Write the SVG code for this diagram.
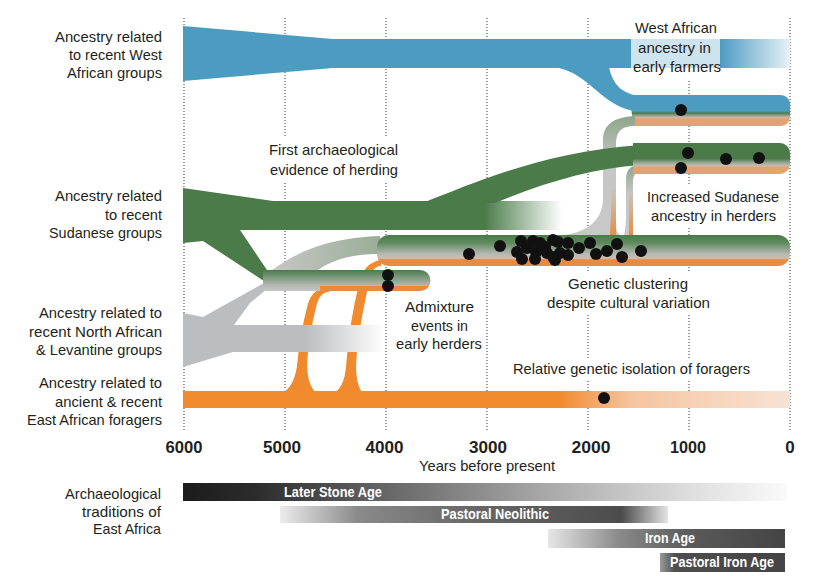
<svg xmlns="http://www.w3.org/2000/svg" width="815" height="576" viewBox="0 0 815 576">
<defs>
<style>
text{font-family:"Liberation Sans",Arial,sans-serif;fill:#231f20;font-size:15px}
.r{text-anchor:end}
.m{text-anchor:middle}
.n{font-weight:bold;font-size:17px;text-anchor:middle}
.b{font-weight:bold;font-size:14px;fill:#fff}
.grid{stroke:#333;stroke-width:1;stroke-dasharray:1 2;fill:none}
.dot{fill:#111}
.mask{fill:#fff}
.orc{fill:#f08a2e;stroke:#fff;stroke-width:1.2}
</style>
<linearGradient id="gBlueFade" x1="0" x2="1" y1="0" y2="0"><stop offset="0" stop-color="#4c9cc2"/><stop offset="1" stop-color="#e9f2f7"/></linearGradient>
<linearGradient id="gLowBlue" x1="0" x2="0" y1="0" y2="1"><stop offset="0" stop-color="#4c9cc2"/><stop offset=".52" stop-color="#4c9cc2"/><stop offset=".58" stop-color="#4a7b49"/><stop offset=".65" stop-color="#86998a"/><stop offset=".72" stop-color="#cbb7a7"/><stop offset=".78" stop-color="#e9a06c"/><stop offset="1" stop-color="#e9a06c"/></linearGradient>
<linearGradient id="gMidGreen" x1="0" x2="0" y1="0" y2="1"><stop offset="0" stop-color="#4a7b49"/><stop offset=".5" stop-color="#4a7b49"/><stop offset=".66" stop-color="#a4aea1"/><stop offset=".74" stop-color="#c9bcb0"/><stop offset=".78" stop-color="#e9a06c"/><stop offset="1" stop-color="#e9a06c"/></linearGradient>
<linearGradient id="gHerd" x1="0" x2="0" y1="0" y2="1"><stop offset="0" stop-color="#4a7b49"/><stop offset=".25" stop-color="#5f8a5d"/><stop offset=".6" stop-color="#b3b7b1"/><stop offset=".75" stop-color="#c9c0b8"/><stop offset=".8" stop-color="#ea8a3e"/><stop offset="1" stop-color="#ea8a3e"/></linearGradient>
<linearGradient id="gSmall" x1="0" x2="0" y1="0" y2="1"><stop offset="0" stop-color="#4a7b49"/><stop offset=".7" stop-color="#b0b6ae"/><stop offset="1" stop-color="#c6c6c6"/></linearGradient>
<linearGradient id="gGreenFade" x1="0" x2="1" y1="0" y2="0"><stop offset="0" stop-color="#4a7b49"/><stop offset="1" stop-color="#4a7b49" stop-opacity="0"/></linearGradient>
<linearGradient id="gGrayFade" x1="0" x2="1" y1="0" y2="0"><stop offset="0" stop-color="#bcbdbf"/><stop offset="1" stop-color="#fff"/></linearGradient>
<linearGradient id="gForager" x1="0" x2="1" y1="0" y2="0"><stop offset="0" stop-color="#f28a2e"/><stop offset=".62" stop-color="#f28a2e"/><stop offset=".74" stop-color="#f5c5a0"/><stop offset="1" stop-color="#f8e2d4"/></linearGradient>
<linearGradient id="gRibbon" x1="0" x2="1" y1="0" y2="0"><stop offset="0" stop-color="#c6c6c6"/><stop offset="1" stop-color="#9aae97"/></linearGradient>
<linearGradient id="gConn" x1="0" x2="0" y1="0" y2="1"><stop offset="0" stop-color="#8fa58c"/><stop offset=".4" stop-color="#c4c7c3"/><stop offset="1" stop-color="#c8c8c8"/></linearGradient>
<linearGradient id="gConnOr" x1="0" x2="0" y1="0" y2="1"><stop offset="0" stop-color="#ea8a3e" stop-opacity="0"/><stop offset="1" stop-color="#ea8a3e"/></linearGradient>
<linearGradient id="gLSA" x1="0" x2="1" y1="0" y2="0"><stop offset="0" stop-color="#1b1b1b"/><stop offset=".12" stop-color="#2c2c2c"/><stop offset=".35" stop-color="#6a6a6a"/><stop offset=".6" stop-color="#a8a8a8"/><stop offset=".85" stop-color="#e0e0e0"/><stop offset="1" stop-color="#fafafa"/></linearGradient>
<linearGradient id="gPN" x1="0" x2="1" y1="0" y2="0"><stop offset="0" stop-color="#ececec"/><stop offset=".2" stop-color="#8a8a8a"/><stop offset=".5" stop-color="#686868"/><stop offset=".88" stop-color="#4c4c4c"/><stop offset="1" stop-color="#e4e4e4"/></linearGradient>
<linearGradient id="gIA" x1="0" x2="1" y1="0" y2="0"><stop offset="0" stop-color="#e6e6e6"/><stop offset=".3" stop-color="#8a8a8a"/><stop offset=".6" stop-color="#5a5a5a"/><stop offset="1" stop-color="#444"/></linearGradient>
<linearGradient id="gPIA" x1="0" x2="1" y1="0" y2="0"><stop offset="0" stop-color="#9a9a9a"/><stop offset=".12" stop-color="#4e4e4e"/><stop offset="1" stop-color="#444"/></linearGradient>
<clipPath id="clipSmall"><path d="M263,270 H420 A10.5,10.5 0 0 1 420,291 H263 Z"/></clipPath>
</defs>
<rect width="815" height="576" fill="#fff"/>

<g id="gridlines">
<path class="grid" d="M184,18V432M285,18V432M386,18V432M487,18V432M588,18V432M689,18V432M790,18V432"/>
</g>
<g id="text-backgrounds">
<rect class="mask" x="265" y="138" width="137" height="44"/>
<rect class="mask" x="629" y="14" width="94" height="66"/>
<rect class="mask" x="643" y="186" width="140" height="42"/>
<rect class="mask" x="543" y="273" width="171" height="42"/>
<rect class="mask" x="392" y="296" width="94" height="58"/>
<rect class="mask" x="509" y="358" width="245" height="22"/>
</g>

<g id="west-african">
<path d="M183,26 L333,39 L720,39 L720,68 L333,68 L183,81 Z" fill="#4c9cc2"/>
<rect x="720" y="39" width="70" height="29" fill="url(#gBlueFade)"/>
<path d="M548,67 C590,67 600,112 645,112 L645,96 C624,96 613,86 609,67 Z" fill="#4c9cc2"/>
<rect x="631" y="39" width="89" height="29" fill="#fff" opacity=".72"/>
</g>

<g id="farmers">
<path d="M630,95 H781 A9,9 0 0 1 790,104 V117 A9,9 0 0 1 781,126 H633 Z" fill="url(#gLowBlue)"/>
</g>

<g id="connectors-late">
<path d="M556,236 C585,234 602,222 603,200 L603,140 C603,126 612,117 635,116 L635,126 C620,126 616,133 616,145 L616,226 C616,231 618,234 622,236 Z" fill="url(#gConn)"/>
<path d="M610,236 C611,220 611,205 612,190 L616,188 L616,236 Z" fill="url(#gConnOr)"/>
<path d="M624,236 C625,230 626,225 626,215 L626,180 C626,170 630,166 638,165 L638,173 C635,173 633,176 633,182 L633,236 Z" fill="url(#gConn)"/>
<path d="M629,236 L629,195 L633,190 L633,236 Z" fill="url(#gConnOr)"/>
</g>

<g id="sudanese">
<path d="M183,188 L273,201 L485,201 L485,230 L240,230 L267,270 L267,283 L203,241 L183,243 Z" fill="#4a7b49"/>
<rect x="484" y="201" width="78" height="29" fill="url(#gGreenFade)"/>
<path d="M425,202 C470,185 540,152 640,145 L640,165 C595,168 545,182 495,203 Z" fill="#4a7b49"/>
</g>

<g id="herders-late">
<path d="M633,143 H780 A10,10 0 0 1 790,153 V164 A10,10 0 0 1 780,174 H633 Z" fill="url(#gMidGreen)"/>
</g>

<g id="connectors">
<path class="orc" d="M280,394 C292,388 296,375 297,360 C299,340 303,320 307,305 C310,293 318,287 330,286 L330,292 C322,293 319,298 317,306 C313,322 309,340 308,360 C307,375 310,387 318,394 Z"/>
<path class="orc" d="M332,394 C343,388 345,375 346,360 C348,335 352,310 358,285 C361,270 367,262 382,259 L382,266 C374,267 371,272 369,285 C364,310 358,335 357,360 C356,375 358,387 364,394 Z"/>
<path d="M272,270 C300,250 330,238 380,236 L380,254 C355,254 335,258 318,270 Z" fill="url(#gRibbon)"/>
</g>

<g id="foragers">
<rect x="183" y="391" width="607" height="17" fill="url(#gForager)"/>
</g>

<g id="north-african">
<path d="M183,313 L203,317 L264,283 L267,289 L250,303 L234,325 L306,325 L306,352 L233,352 L183,367 Z" fill="#bcbdbf"/>
<rect x="305" y="325" width="79" height="27" fill="url(#gGrayFade)"/>
</g>

<g id="herders-early">
<path d="M263,270 H420 A10.5,10.5 0 0 1 420,291 H263 Z" fill="url(#gSmall)"/>
<rect x="320" y="286" width="112" height="6" fill="#ea8a3e" clip-path="url(#clipSmall)"/>
<circle class="dot" cx="388" cy="275" r="6"/>
<circle class="dot" cx="388" cy="286" r="6"/>
</g>

<g id="herders">
<rect x="377" y="235" width="413" height="31" rx="12" fill="url(#gHerd)"/>
<circle class="dot" cx="469" cy="254" r="6"/>
<circle class="dot" cx="500" cy="246" r="6"/>
<circle class="dot" cx="521" cy="241" r="6"/>
<circle class="dot" cx="517" cy="252" r="6"/>
<circle class="dot" cx="522" cy="259" r="6"/>
<circle class="dot" cx="533" cy="241" r="6"/>
<circle class="dot" cx="540" cy="243" r="6"/>
<circle class="dot" cx="536" cy="252" r="6"/>
<circle class="dot" cx="535" cy="259" r="6"/>
<circle class="dot" cx="527" cy="248" r="6"/>
<circle class="dot" cx="545" cy="247" r="6"/>
<circle class="dot" cx="553" cy="240" r="6"/>
<circle class="dot" cx="558" cy="242" r="6"/>
<circle class="dot" cx="547" cy="253" r="6"/>
<circle class="dot" cx="553" cy="257" r="6"/>
<circle class="dot" cx="555" cy="260" r="6"/>
<circle class="dot" cx="560" cy="253" r="6"/>
<circle class="dot" cx="568" cy="243" r="6"/>
<circle class="dot" cx="568" cy="255" r="6"/>
<circle class="dot" cx="579" cy="248" r="6"/>
<circle class="dot" cx="590" cy="243" r="6"/>
<circle class="dot" cx="596" cy="254" r="6"/>
<circle class="dot" cx="607" cy="251" r="6"/>
<circle class="dot" cx="617" cy="244" r="6"/>
<circle class="dot" cx="622" cy="257" r="6"/>
<circle class="dot" cx="641" cy="251" r="6"/>
</g>

<g id="samples-late">
<circle class="dot" cx="681" cy="110" r="6"/>
<circle class="dot" cx="688" cy="153" r="6"/>
<circle class="dot" cx="726" cy="159" r="6"/>
<circle class="dot" cx="759" cy="158" r="6"/>
<circle class="dot" cx="681" cy="168" r="6"/>
<circle class="dot" cx="604" cy="398" r="6"/>
</g>

<g id="labels-left">
<text class="r" x="162" y="42" textLength="107" lengthAdjust="spacingAndGlyphs">Ancestry related</text>
<text class="r" x="162" y="60" textLength="93" lengthAdjust="spacingAndGlyphs">to recent West</text>
<text class="r" x="162" y="78" textLength="95" lengthAdjust="spacingAndGlyphs">African groups</text>
<text class="r" x="162" y="201" textLength="107" lengthAdjust="spacingAndGlyphs">Ancestry related</text>
<text class="r" x="162" y="220" textLength="57" lengthAdjust="spacingAndGlyphs">to recent</text>
<text class="r" x="162" y="238" textLength="113" lengthAdjust="spacingAndGlyphs">Sudanese groups</text>
<text class="r" x="162" y="318" textLength="123" lengthAdjust="spacingAndGlyphs">Ancestry related to</text>
<text class="r" x="162" y="337" textLength="133" lengthAdjust="spacingAndGlyphs">recent North African</text>
<text class="r" x="162" y="355" textLength="126" lengthAdjust="spacingAndGlyphs">&amp; Levantine groups</text>
<text class="r" x="162" y="388" textLength="123" lengthAdjust="spacingAndGlyphs">Ancestry related to</text>
<text class="r" x="162" y="407" textLength="107" lengthAdjust="spacingAndGlyphs">ancient &amp; recent</text>
<text class="r" x="162" y="425" textLength="135" lengthAdjust="spacingAndGlyphs">East African foragers</text>
<text class="r" x="161" y="499" textLength="96" lengthAdjust="spacingAndGlyphs">Archaeological</text>
<text class="r" x="161" y="517" textLength="79" lengthAdjust="spacingAndGlyphs">traditions of</text>
<text class="r" x="161" y="534" textLength="68" lengthAdjust="spacingAndGlyphs">East Africa</text>
</g>

<g id="annotations">
<text class="m" x="333.5" y="155" textLength="129" lengthAdjust="spacingAndGlyphs">First archaeological</text>
<text class="m" x="334" y="175" textLength="128" lengthAdjust="spacingAndGlyphs">evidence of herding</text>
<text class="m" x="676" y="33" textLength="82" lengthAdjust="spacingAndGlyphs">West African</text>
<text class="m" x="674.5" y="53" textLength="73" lengthAdjust="spacingAndGlyphs">ancestry in</text>
<text class="m" x="677" y="72" textLength="88" lengthAdjust="spacingAndGlyphs">early farmers</text>
<text class="m" x="713" y="202" textLength="132" lengthAdjust="spacingAndGlyphs">Increased Sudanese</text>
<text class="m" x="713.5" y="221" textLength="125" lengthAdjust="spacingAndGlyphs">ancestry in herders</text>
<text class="m" x="628" y="289" textLength="120" lengthAdjust="spacingAndGlyphs">Genetic clustering</text>
<text class="m" x="628.5" y="308" textLength="163" lengthAdjust="spacingAndGlyphs">despite cultural variation</text>
<text class="m" x="439.5" y="312" textLength="69" lengthAdjust="spacingAndGlyphs">Admixture</text>
<text class="m" x="439.5" y="331" textLength="57" lengthAdjust="spacingAndGlyphs">events in</text>
<text class="m" x="439" y="349" textLength="86" lengthAdjust="spacingAndGlyphs">early herders</text>
<text class="m" x="631.5" y="374" textLength="237" lengthAdjust="spacingAndGlyphs">Relative genetic isolation of foragers</text>
</g>

<g id="axis">
<text class="n" x="184" y="453" textLength="37" lengthAdjust="spacingAndGlyphs">6000</text>
<text class="n" x="282" y="453" textLength="38" lengthAdjust="spacingAndGlyphs">5000</text>
<text class="n" x="384.5" y="453" textLength="38" lengthAdjust="spacingAndGlyphs">4000</text>
<text class="n" x="488" y="453" textLength="38" lengthAdjust="spacingAndGlyphs">3000</text>
<text class="n" x="591" y="453" textLength="39" lengthAdjust="spacingAndGlyphs">2000</text>
<text class="n" x="688" y="453" textLength="36" lengthAdjust="spacingAndGlyphs">1000</text>
<text class="n" x="790" y="453">0</text>
<text class="m" x="487" y="471" textLength="136" lengthAdjust="spacingAndGlyphs">Years before present</text>
</g>

<g id="traditions">
<rect x="183" y="483" width="604" height="18" fill="url(#gLSA)"/>
<rect x="280" y="506" width="388" height="17" fill="url(#gPN)"/>
<rect x="548" y="529" width="237" height="19" fill="url(#gIA)"/>
<rect x="660" y="553" width="125" height="19" fill="url(#gPIA)"/>
<text class="b" x="284" y="497" textLength="98" lengthAdjust="spacingAndGlyphs">Later Stone Age</text>
<text class="b m" x="495" y="519" textLength="108" lengthAdjust="spacingAndGlyphs">Pastoral Neolithic</text>
<text class="b m" x="670" y="543" textLength="50" lengthAdjust="spacingAndGlyphs">Iron Age</text>
<text class="b m" x="722" y="567" textLength="104" lengthAdjust="spacingAndGlyphs">Pastoral Iron Age</text>
</g>
</svg>
